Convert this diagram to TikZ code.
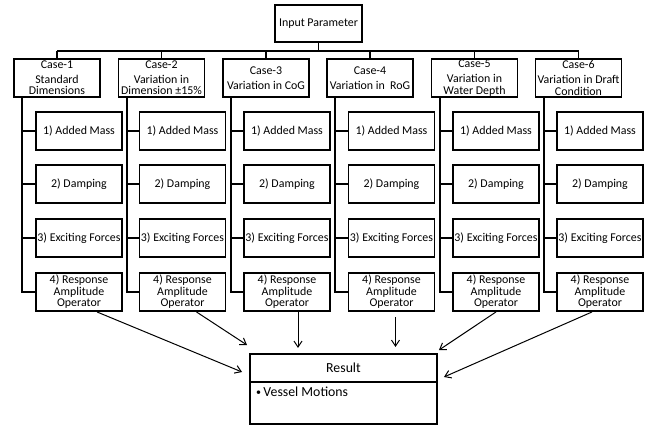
\documentclass[tikz,border=0pt]{standalone}
\usepackage{fontspec}
\setmainfont{Carlito}
\usetikzlibrary{calc,arrows.meta}
\begin{document}
\begin{tikzpicture}[x=1pt,y=-1pt,
  box/.style={draw=black,line width=1.9pt,fill=white,minimum width=86pt,minimum height=38pt,inner sep=0pt,align=center,font=\fontsize{11.9}{11.6}\selectfont},
  wire/.style={line width=1.9pt,draw=black},
  arr/.style={line width=1pt,-{Straight Barb[length=6pt,width=8pt,line width=1pt]}}]
\useasboundingbox (0,0) rectangle (651,424);
\node[box,minimum width=87pt,minimum height=37pt] (inp) at (318.5,23.5) {Input Parameter};
\coordinate (bus) at (318.5,51);
\foreach \i/\cx/\sx/\t in {1/57/79/{Case-1\\[3pt]Standard\\Dimensions},
                          2/161.5/182.5/{Case-2\\[3pt]Variation in\\Dimension ±15\%},
                          3/266/287/{Case-3\\[3pt]Variation in CoG},
                          4/370/391.5/{Case-4\\[3pt]Variation in~~RoG},
                          5/474.5/496/{Case-5\\[3pt]Variation in\\Water Depth},
                          6/578.5/600/{Case-6\\[3pt]Variation in Draft\\Condition}}{
  \node[box] (c\i) at (\cx,78) {\t};
  \node[box] (a\i) at (\sx,131) {1) Added Mass};
  \node[box] (d\i) at (\sx,184) {2) Damping};
  \node[box] (e\i) at (\sx,238) {3) Exciting Forces};
  \node[box] (r\i) at (\sx,292) {4) Response\\Amplitude\\Operator};
  \draw[wire] (c\i.south west) ++(9,0) coordinate (s\i) |- (r\i.west);
  \draw[wire] (a\i.west) -- (a\i.west -| s\i);
  \draw[wire] (d\i.west) -- (d\i.west -| s\i);
  \draw[wire] (e\i.west) -- (e\i.west -| s\i);
  \draw[wire] (c\i.north) -- (c\i.north |- bus);
}
\draw[wire] (inp.south) -- (bus);
\draw[wire] (c1.north |- bus) -- (c6.north |- bus);
\node[draw=black,line width=1.9pt,minimum width=187pt,minimum height=28pt,inner sep=0pt,font=\fontsize{13.8}{14}\selectfont] (rt) at (343.5,368) {Result};
\node[minimum width=187pt,minimum height=41pt,inner sep=0pt,anchor=north] (rb) at (rt.south) {};
\draw[wire] (rb.north west) |- (rb.south east) -- (rb.north east);
\node[anchor=north west,inner sep=0pt,font=\fontsize{13.8}{14}\selectfont] (rbt) at ($(rb.north west)+(6,4)$) {\raisebox{1.2pt}{\fontsize{10}{10}\selectfont\textbullet}\hspace{2.5pt}Vessel Motions};
\draw[arr] ($(r1.south)+(18,0)$) -- ($(rt.west)+(-7,4)$);
\draw[arr] ($(r2.south)+(14,0)$) -- ($(rt.north west)+(-2,-8)$);
\draw[arr] ($(r3.south)+(11,0)$) -- ($(r3.south)+(11,36)$);
\draw[arr] ($(r4.south)+(4,5)$) -- ($(r4.south)+(4,35)$);
\draw[arr] (r5.south) -- ($(rt.north east)+(1,-3)$);
\draw[arr] ($(r6.south)+(-8,0)$) -- ($(rt.east)+(6,9)$);
\end{tikzpicture}
\end{document}
